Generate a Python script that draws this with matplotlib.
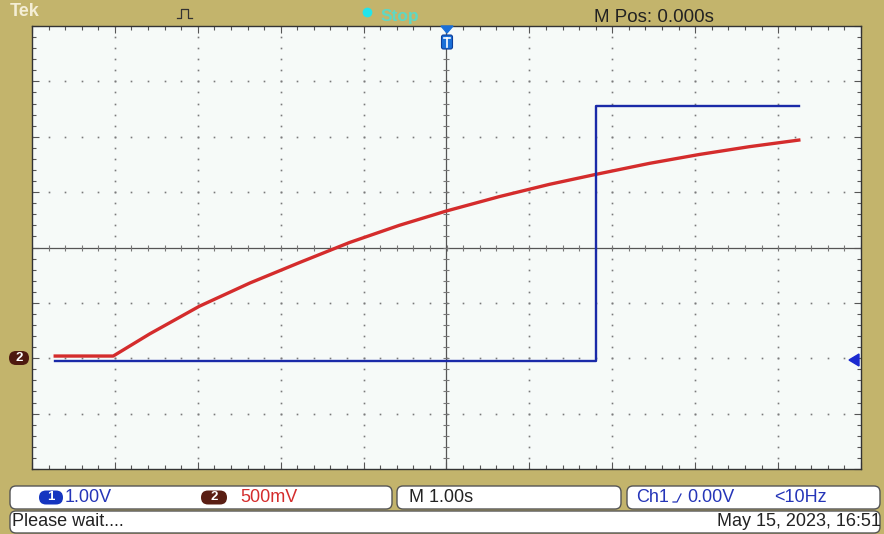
import numpy as np
import matplotlib
matplotlib.use("Agg")
import matplotlib.pyplot as plt
from matplotlib.patches import FancyBboxPatch, Polygon

plt.rcParams['font.family'] = ['Liberation Sans', 'DejaVu Sans']

# ---- data (time in s, volts) ----
# CH1 (blue), 1.00V/div
ch1_t = [-4.72, 1.80, 1.80, 4.25]
ch1_v = [0.0, 0.0, 4.60, 4.60]
ch1_pos = -2.05
ch1_scale = 1.0

# CH2 (red), 500mV/div
ch2_t = [-4.72, -4.02, -3.58, -2.98, -2.37, -1.77, -1.17, -0.57, 0.0,
         0.64, 1.24, 1.80, 2.45, 3.05, 3.65, 4.25]
ch2_v = [0.0, 0.0, 0.20, 0.45, 0.66, 0.845, 1.025, 1.18, 1.31,
         1.44, 1.55, 1.64, 1.74, 1.82, 1.89, 1.95]
ch2_pos = -1.96
ch2_scale = 0.5

W, H = 884, 534
tan = '#C3B46C'
blue = '#1A2AA8'
red = '#D42C2C'

fig = plt.figure(figsize=(W / 100, H / 100), dpi=100, facecolor=tan)

# screen area
sx0, sx1, sy0, sy1 = 32, 861, 26, 469
ax = fig.add_axes([sx0 / W, 1 - sy1 / H, (sx1 - sx0) / W, (sy1 - sy0) / H])
ax.set_facecolor('#F6FAF8')
ax.set_xlim(-5, 5)
ax.set_ylim(-4, 4)

# graticule dots
for gx in range(-4, 5):
    if gx == 0:
        continue
    yy = np.arange(-4, 4.01, 0.2)
    ax.plot(np.full_like(yy, gx), yy, ls='none', marker='s', ms=1.2, color='#7a7a7a', mew=0)
for gy in range(-3, 4):
    if gy == 0:
        continue
    xx = np.arange(-5, 5.01, 0.2)
    ax.plot(xx, np.full_like(xx, gy), ls='none', marker='s', ms=1.2, color='#7a7a7a', mew=0)

# center crosshair with ticks
ax.axhline(0, color='#555555', lw=0.9)
ax.axvline(0, color='#555555', lw=0.9)
xx = np.arange(-5, 5.01, 0.2)
ax.plot(xx, np.zeros_like(xx), ls='none', marker='|', ms=5, color='#777777', mew=0.8)
yy = np.arange(-4, 4.01, 0.2)
ax.plot(np.zeros_like(yy), yy, ls='none', marker='_', ms=5, color='#777777', mew=0.8)

# edge ticks
ax.set_xticks(np.arange(-5, 5.01, 1))
ax.set_yticks(np.arange(-4, 4.01, 1))
ax.set_xticks(np.arange(-5, 5.01, 0.2), minor=True)
ax.set_yticks(np.arange(-4, 4.01, 0.2), minor=True)
ax.tick_params(which='both', direction='in', top=True, right=True,
               labelbottom=False, labelleft=False, color='#555555', width=0.8)
ax.tick_params(which='major', length=5)
ax.tick_params(which='minor', length=3)
for s in ax.spines.values():
    s.set_color('#333333')
    s.set_linewidth(1.0)

# traces
ch1_y = [v / ch1_scale + ch1_pos for v in ch1_v]
ch2_y = [v / ch2_scale + ch2_pos for v in ch2_v]
ax.plot(ch1_t, ch1_y, color=blue, lw=1.7, zorder=5)
ax.plot(ch2_t, ch2_y, color=red, lw=2.4, zorder=4)

# overlay in pixel coords for the scope UI
ui = fig.add_axes([0, 0, 1, 1], zorder=10)
ui.set_xlim(0, W)
ui.set_ylim(H, 0)
ui.axis('off')
ui.patch.set_alpha(0)

# top bar
ui.text(10, 11, 'Tek', fontsize=13, fontweight='bold', color='#F4EED6', va='center')
ui.plot([177, 181, 181, 188, 188, 192], [18, 18, 9, 9, 18, 18], color='#333333', lw=0.9)
ui.plot([367], [12], marker='o', ms=7, color='#22E4EC', mew=0)
ui.text(381, 17, 'Stop', fontsize=12.5, color='#5ED8C4', va='center', fontweight='bold')
ui.text(594, 17, 'M Pos: 0.000s', fontsize=13.5, color='#222222', va='center')

# trigger position marker
ui.add_patch(Polygon([[441, 26], [453, 26], [447, 33]], closed=True, color='#1A6FD8'))
ui.add_patch(FancyBboxPatch((441.5, 35), 11, 14, boxstyle='round,pad=0,rounding_size=2',
                            fc='#1A6FD8', ec='#0D3E9A', lw=0.8))
ui.plot([444, 450], [38, 38], color='white', lw=1.2)
ui.plot([447, 447], [38, 47], color='white', lw=1.2)


def badge(xc, yc, w, h, label, fc):
    ui.add_patch(FancyBboxPatch((xc - w / 2, yc - h / 2), w, h,
                                boxstyle='round,pad=0,rounding_size=%g' % (h / 2),
                                fc=fc, ec='none'))
    ui.text(xc, yc, label, fontsize=9.5, fontweight='bold', color='white',
            ha='center', va='center')


# channel 2 ground marker and trigger level arrow
badge(19, 358, 20, 14, '2', '#4E1A10')
ui.add_patch(Polygon([[849, 360], [859, 354], [859, 366]], closed=True, color='#1A2AD0'))


# bottom panels
def panel(x0, x1, y0, y1):
    ui.add_patch(FancyBboxPatch((x0, y0), x1 - x0, y1 - y0,
                                boxstyle='round,pad=0,rounding_size=6',
                                fc='white', ec='#555555', lw=1.0))


panel(10, 392, 486, 509)
panel(397, 621, 486, 509)
panel(627, 880, 486, 509)
panel(10, 880, 511, 533)

ry = 497.5
badge(51, ry, 24, 14, '1', '#1535C0')
ui.text(65, ry, '1.00V', fontsize=13, color='#2535B8', va='center')
badge(214, ry, 26, 14, '2', '#5A1E14')
ui.text(240, ry, '500mV', fontsize=13, color='#D42C2C', va='center')
ui.text(409, ry, 'M 1.00s', fontsize=13, color='#222222', va='center')
ui.text(636, ry, 'Ch1', fontsize=13, color='#2535B8', va='center')
ui.plot([673, 677, 681], [502, 502, 494], color='#2535B8', lw=0.9)
ui.text(687, ry, '0.00V', fontsize=13, color='#2535B8', va='center')
ui.text(774, ry, '<10Hz', fontsize=13, color='#2535B8', va='center')

ui.text(12, 522, 'Please wait....', fontsize=13, color='#222222', va='center')
ui.text(881, 522, 'May 15, 2023, 16:51', fontsize=13, color='#222222', va='center', ha='right')

fig.savefig('out.png', dpi=100, facecolor=tan)
